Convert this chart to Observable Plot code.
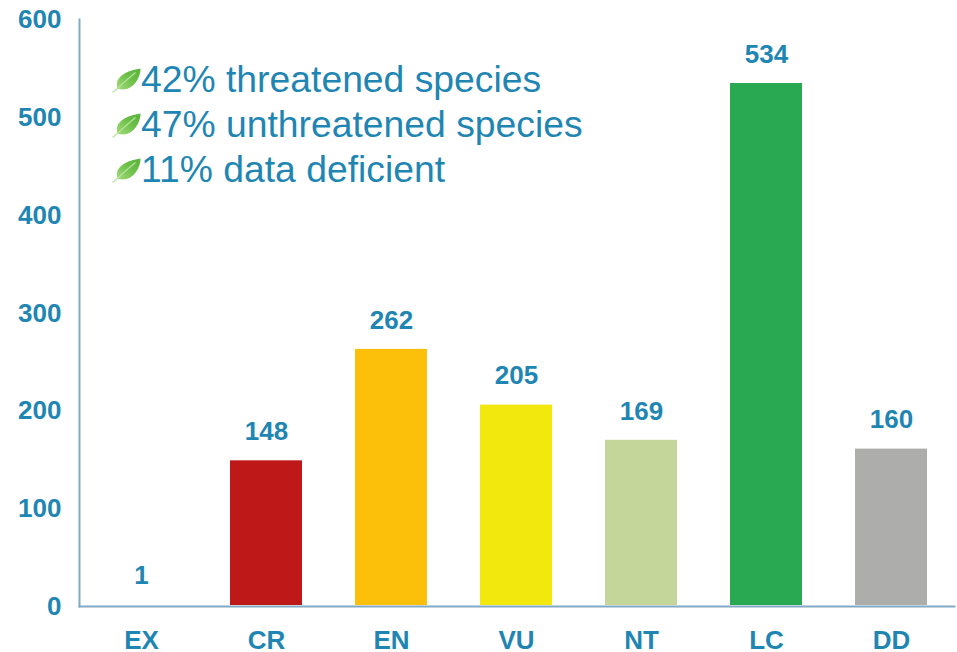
<!DOCTYPE html>
<html>
<head>
<meta charset="utf-8">
<script src="https://cdn.jsdelivr.net/npm/d3@7"></script>
<script src="https://cdn.jsdelivr.net/npm/@observablehq/plot@0.6"></script>
<style>
html,body{margin:0;padding:0;background:#fff}
svg{display:block}
</style>
</head>
<body>
<div id="chart"></div>
<script>
const categories = ["EX","CR","EN","VU","NT","LC","DD"];
const counts = [1,148,262,205,169,534,160];
const barColors = ["#ffffff","#be1818","#fdc00a","#f2e80d","#c5d69b","#28a952","#adaeac"];
const notes = ["42% threatened species","47% unthreatened species","11% data deficient"];
const noteOffsets = [61,106,151];
const yTicks = [0,100,200,300,400,500,600];

const textColor = "#1f86b3";
const axisColor = "#82a9c4";
const font = "'Liberation Sans', Arial, sans-serif";
const rows = categories.map((category,i)=>({category,count:counts[i]}));

const leafSvg = `<svg xmlns="http://www.w3.org/2000/svg" viewBox="0 0 30 26"><defs><linearGradient id="g" x1="0" y1="1" x2="1" y2="0"><stop offset="0" stop-color="#a4dc7c"/><stop offset="0.55" stop-color="#6cc049"/><stop offset="1" stop-color="#58b23a"/></linearGradient></defs><path d="M6 21C2 9 16 3 29 1C29 11 20 26 6 21Z" fill="url(#g)"/><path d="M1 25L7 20C12 15 18 10 24 5" fill="none" stroke="#b8e39c" stroke-width="1.1"/></svg>`;
const leafSrc = "data:image/svg+xml;utf8," + encodeURIComponent(leafSvg);

const noteMarks = notes.flatMap((note,i)=>[
  Plot.image([note], {src:()=>leafSrc, frameAnchor:"top-left", dx:47, dy:noteOffsets[i], width:30, height:26}),
  Plot.text([note], {text:d=>d, frameAnchor:"top-left", textAnchor:"start", lineAnchor:"middle", dx:61.5, dy:noteOffsets[i], fontSize:37.3, fill:textColor})
]);

const plot = Plot.plot({
  width: 957,
  height: 652,
  marginLeft: 79,
  marginRight: 3,
  marginTop: 19,
  marginBottom: 46,
  style: {fontFamily: font, background: "#fff"},
  x: {domain: categories, label: null, range:[78,953], paddingInner: 0.424, paddingOuter: 0.212, align: 0.5},
  y: {domain: [0,600], label: null, range:[605,18.5]},
  color: {domain: categories, range: barColors},
  marks: [
    Plot.barY(rows, {x:"category", y:"count", fill:"category"}),
    Plot.frame({anchor:"left", stroke:axisColor, strokeWidth:2, strokeOpacity:1}),
    Plot.frame({anchor:"bottom", stroke:axisColor, strokeWidth:2, strokeOpacity:1}),
    Plot.axisY({ticks:yTicks, tickSize:0, tickPadding:18, dy:1, label:null, fontSize:26, fontWeight:"bold", fill:textColor, tickFormat:d=>String(d)}),
    Plot.axisX({tickSize:0, tickPadding:24, label:null, fontSize:26, fontWeight:"bold", fill:textColor}),
    Plot.text(rows, {x:"category", y:"count", text:d=>String(d.count), dy:-29, fontSize:26, fontWeight:"bold", fill:textColor}),
    ...noteMarks
  ]
});
document.getElementById("chart").append(plot);
</script>
</body>
</html>
